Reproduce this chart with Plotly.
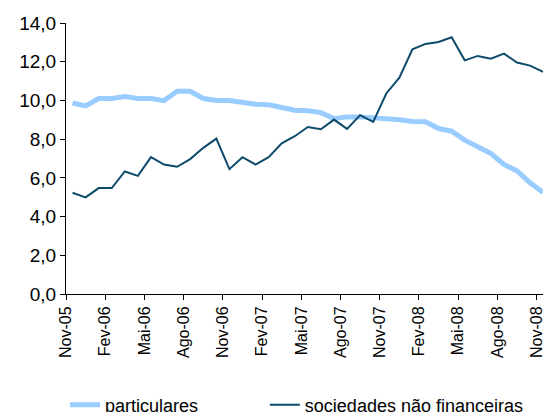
import plotly.graph_objects as go

months = ["Nov-05","Dez-05","Jan-06","Fev-06","Mar-06","Abr-06","Mai-06","Jun-06","Jul-06","Ago-06",
          "Set-06","Out-06","Nov-06","Dez-06","Jan-07","Fev-07","Mar-07","Abr-07","Mai-07","Jun-07",
          "Jul-07","Ago-07","Set-07","Out-07","Nov-07","Dez-07","Jan-08","Fev-08","Mar-08","Abr-08",
          "Mai-08","Jun-08","Jul-08","Ago-08","Set-08","Out-08","Nov-08"]

particulares = [9.87, 9.72, 10.1, 10.1, 10.2, 10.1, 10.1, 9.99, 10.47, 10.47,
                10.1, 10.0, 10.0, 9.9, 9.8, 9.78, 9.62, 9.49, 9.47, 9.37,
                9.06, 9.15, 9.15, 9.12, 9.03, 9.0, 8.91, 8.9, 8.55, 8.41,
                7.95, 7.64, 7.26, 6.69, 6.36, 5.74, 5.25]

sociedades = [5.23, 4.99, 5.47, 5.47, 6.33, 6.10, 7.07, 6.69, 6.57, 6.97,
              7.55, 8.03, 6.45, 7.07, 6.69, 7.07, 7.78, 8.15, 8.63, 8.51,
              9.01, 8.53, 9.24, 8.89, 10.36, 11.18, 12.64, 12.92, 13.02, 13.26,
              12.07, 12.30, 12.16, 12.42, 11.96, 11.80, 11.47]

tick_labels = months[::3]
y_ticks = [0, 2, 4, 6, 8, 10, 12, 14]

x = list(range(len(months)))

fig = go.Figure()
fig.add_trace(go.Scatter(x=x, y=particulares, mode="lines", name="particulares",
                         line=dict(color="#99CCFF", width=5), legend="legend"))
fig.add_trace(go.Scatter(x=x, y=sociedades, mode="lines", name="sociedades não financeiras",
                         line=dict(color="#0E4B6B", width=2), legend="legend2"))

legend_style = dict(orientation="h", xanchor="left", y=-0.41, yanchor="middle",
                    font=dict(size=18), bgcolor="rgba(0,0,0,0)")

# page body has an 8px margin, so the figure is sized/offset to compensate
fig.update_layout(
    width=543, height=404,
    margin=dict(l=58, r=0, t=15, b=118, autoexpand=False),
    plot_bgcolor="white", paper_bgcolor="white",
    separators=",.",
    font=dict(family="Liberation Sans, Arial, sans-serif", color="black"),
    showlegend=True,
    legend=dict(x=-0.002, **legend_style),
    legend2=dict(x=0.41, **legend_style),
)
fig.update_xaxes(
    range=[-0.5, 36.6], showgrid=False, zeroline=False, automargin=False,
    showline=True, linecolor="black", linewidth=1,
    tickmode="array", tickvals=[i - 0.5 for i in x[::3]], ticktext=tick_labels,
    ticks="outside", ticklen=5, tickcolor="black", tickangle=-90,
    tickfont=dict(size=16),
)
fig.update_yaxes(
    range=[0, 14], showgrid=False, zeroline=False, automargin=False,
    showline=True, linecolor="black", linewidth=1,
    tickmode="array", tickvals=y_ticks, tickformat=".1f",
    ticks="outside", ticklen=5, tickcolor="black",
    tickfont=dict(size=19),
)

fig.write_html("out.html")
